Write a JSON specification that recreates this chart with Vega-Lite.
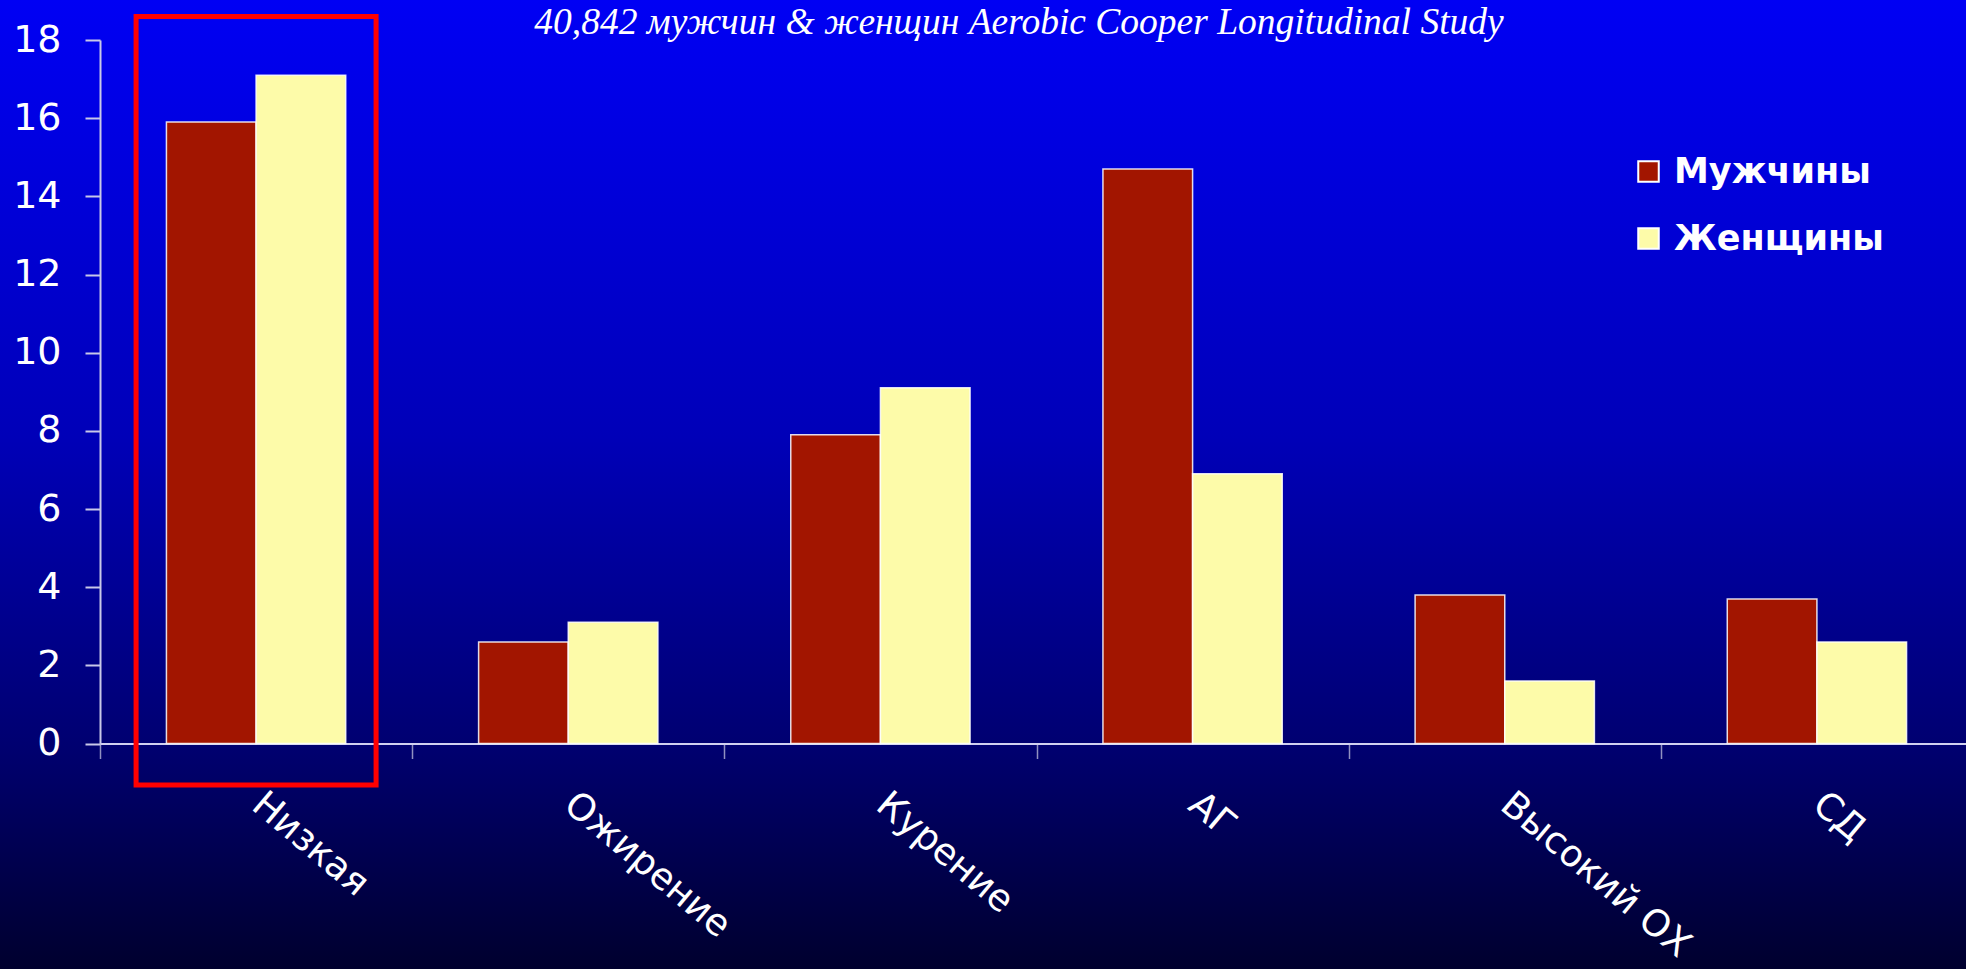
{
  "$schema": "https://vega.github.io/schema/vega-lite/v6.json",
  "width": 1966,
  "height": 969,
  "padding": 0,
  "autosize": {"type": "none"},
  "background": "#00006A",
  "config": {
    "view": {
      "stroke": null,
      "fill": {
        "gradient": "linear",
        "x1": 0, "y1": 0, "x2": 0, "y2": 1,
        "stops": [
          {"offset": 0, "color": "#0000F4"},
          {"offset": 0.45, "color": "#0000B8"},
          {"offset": 0.77, "color": "#000070"},
          {"offset": 1, "color": "#00002E"}
        ]
      }
    }
  },
  "title": {
    "text": "40,842 мужчин  & женщин Aerobic Cooper Longitudinal Study",
    "font": "Liberation Serif",
    "fontStyle": "italic",
    "fontWeight": "normal",
    "fontSize": 37.5,
    "color": "#FFFFFF",
    "anchor": "middle",
    "offset": -41,
    "dx": 36
  },
  "datasets": {
    "rates": [
      {"category": "Низкая", "sex": "Мужчины", "value": 15.9},
      {"category": "Низкая", "sex": "Женщины", "value": 17.1},
      {"category": "Ожирение", "sex": "Мужчины", "value": 2.6},
      {"category": "Ожирение", "sex": "Женщины", "value": 3.1},
      {"category": "Курение", "sex": "Мужчины", "value": 7.9},
      {"category": "Курение", "sex": "Женщины", "value": 9.1},
      {"category": "АГ", "sex": "Мужчины", "value": 14.7},
      {"category": "АГ", "sex": "Женщины", "value": 6.9},
      {"category": "Высокий ОХ", "sex": "Мужчины", "value": 3.8},
      {"category": "Высокий ОХ", "sex": "Женщины", "value": 1.6},
      {"category": "СД", "sex": "Мужчины", "value": 3.7},
      {"category": "СД", "sex": "Женщины", "value": 2.6}
    ],
    "highlight": [
      {"category": "Низкая", "top": 18.6, "bottom": -1.06}
    ]
  },
  "layer": [
    {
      "data": {"name": "rates"},
      "mark": {"type": "bar", "stroke": "#FFFFFF", "strokeWidth": 1.5, "strokeOpacity": 0.85},
      "encoding": {
        "x": {
          "field": "category",
          "type": "nominal",
          "scale": {
            "domain": ["Низкая", "Ожирение", "Курение", "АГ", "Высокий ОХ", "СД"],
            "range": [100, 1973],
            "paddingInner": 0,
            "paddingOuter": 0
          },
          "axis": {
            "title": null,
            "offset": -225.5,
            "labelAngle": 40,
            "labelAlign": "left",
            "labelBaseline": "top",
            "labelPadding": 27,
            "labelOffset": 12,
            "labelFont": "DejaVu Sans",
            "labelFontSize": 37,
            "labelColor": "#FFFFFF",
            "labelLimit": 500,
            "domainColor": "#D0D0F0",
            "domainWidth": 2,
            "tickColor": "#9090C0",
            "tickWidth": 1.5,
            "tickSize": 15,
            "tickBand": "extent",
            "grid": false
          }
        },
        "xOffset": {
          "field": "sex",
          "type": "nominal",
          "sort": ["Мужчины", "Женщины"],
          "scale": {"paddingInner": 0, "paddingOuter": 0.741}
        },
        "y": {
          "field": "value",
          "type": "quantitative",
          "scale": {"domain": [0, 18], "range": [743.5, 40], "nice": false},
          "axis": {
            "title": null,
            "offset": -100,
            "values": [0, 2, 4, 6, 8, 10, 12, 14, 16, 18],
            "labelFont": "DejaVu Sans",
            "labelFontSize": 38,
            "labelColor": "#FFFFFF",
            "labelPadding": 24,
            "domainColor": "#C8C8E8",
            "domainWidth": 2,
            "tickColor": "#C8C8E8",
            "tickWidth": 2,
            "tickSize": 15,
            "grid": false
          }
        },
        "color": {
          "field": "sex",
          "type": "nominal",
          "scale": {"domain": ["Мужчины", "Женщины"], "range": ["#A21500", "#FDFBA9"]},
          "legend": {
            "title": null,
            "orient": "none",
            "legendX": 1631,
            "legendY": 154,
            "symbolType": "square",
            "symbolSize": 420,
            "symbolOpacity": 1,
            "symbolStrokeColor": "#FFFFFF",
            "symbolStrokeWidth": 2,
            "labelFont": "DejaVu Sans",
            "labelFontWeight": "bold",
            "labelFontSize": 35,
            "labelColor": "#FFFFFF",
            "labelLimit": 500,
            "labelOffset": 8,
            "rowPadding": 31
          }
        }
      }
    },
    {
      "data": {"name": "highlight"},
      "mark": {"type": "bar", "fill": null, "fillOpacity": 0, "stroke": "#FF0000", "strokeWidth": 5, "width": 240},
      "encoding": {
        "x": {"field": "category", "type": "nominal"},
        "y": {"field": "top", "type": "quantitative"},
        "y2": {"field": "bottom"}
      }
    }
  ]
}
